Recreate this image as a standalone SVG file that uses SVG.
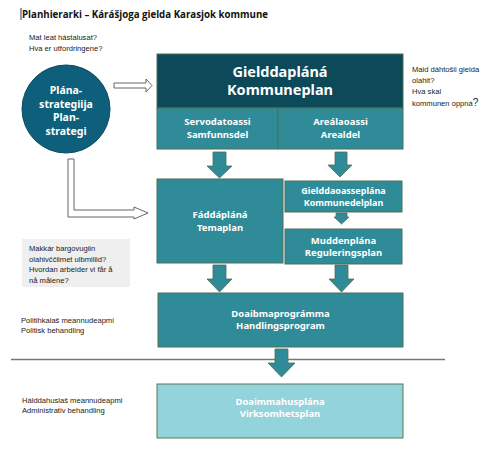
<svg xmlns="http://www.w3.org/2000/svg" width="488" height="451" viewBox="0 0 488 451">
<style>
.box{fill:#2f8b97;stroke:#4f6f57;stroke-width:1}
.dark{fill:#0c4a5a;stroke:#4f6f57;stroke-width:1}
.light{fill:#93d3dc;stroke:#5b7a55;stroke-width:1}
.bt{font-family:"Noto Sans","Open Sans",sans-serif;font-weight:bold;fill:#ffffff;text-anchor:middle}
.sm{font-family:"Liberation Sans",Arial,sans-serif;font-size:7.6px;fill:#222222}
.down{fill:#2f8b97;stroke:#4f6f57;stroke-width:0.8}
.hollow{fill:#ffffff;stroke:#555555;stroke-width:0.9}
</style>
<rect width="488" height="451" fill="#ffffff"/>
<line x1="21" y1="8" x2="21" y2="20" stroke="#000" stroke-width="0.8"/>
<text x="22" y="18" font-family="Open Sans, sans-serif" font-weight="bold" font-size="10.5" fill="#111" textLength="246" lengthAdjust="spacingAndGlyphs">Planhierarki – Kárášjoga gielda Karasjok kommune</text>

<g id="note-top">
<text class="sm" x="29" y="40">Mat leat hástalusat?</text>
<text class="sm" x="29" y="51">Hva er utfordringene?</text>
</g>

<g id="note-right">
<text class="sm" x="412" y="72" font-size="7">Maid dáhtošii gielda</text>
<text class="sm" x="412" y="83" font-size="7">olahit?</text>
<text class="sm" x="412" y="94" font-size="7">Hva skal</text>
<text class="sm" x="412" y="106" font-size="7">kommunen oppná<tspan font-size="10">?</tspan></text>
</g>

<g id="note-gray">
<rect x="22" y="239" width="108" height="48" fill="#efefef"/>
<text class="sm" x="29" y="251">Makkár bargovugiin</text>
<text class="sm" x="29" y="261.5">olahivččiimet ulbmiliid?</text>
<text class="sm" x="29" y="272">Hvordan arbeider vi får å</text>
<text class="sm" x="29" y="282.5">nå målene?</text>
</g>

<g id="note-political">
<text class="sm" x="21" y="323">Politihkalaš meannudeapmi</text>
<text class="sm" x="21" y="333">Politisk behandling</text>
</g>

<g id="note-admin">
<text class="sm" x="22" y="403">Hálddahuslaš meannudeapmi</text>
<text class="sm" x="22" y="413">Administrativ behandling</text>
</g>

<g id="connectors">
<polygon class="hollow" points="114,83 146,83 146,79 152,85.5 146,92 146,88 114,88"/>
<polygon class="hollow" points="68,159 74,159 74,210 134,210 134,207 148,213 134,219 134,217 68,217"/>
<polygon class="down" points="213,152 226,152 226,166 232,166 219.5,178 207,166 213,166"/>
<polygon class="down" points="335,152 347,152 347,165 352,165 340,177 328,165 335,165"/>
<polygon class="down" points="336,213 347,213 347,217 349,217 341.5,224 334,217 336,217"/>
<polygon class="down" points="213,265 226,265 226,279 232,279 219.5,292 207,279 213,279"/>
<polygon class="down" points="335,265 348,265 348,279 354,279 341.5,292 329,279 335,279"/>
<line x1="11" y1="359.5" x2="445" y2="359.5" stroke="#777" stroke-width="1.3"/>
<polygon class="down" points="275,349 288,349 288,363 295,363 281.5,377 268,363 275,363"/>
</g>

<g id="plan-strategi">
<circle cx="66" cy="109" r="44" fill="#0d5f7b" stroke="#0a4a5e" stroke-width="1"/>
<text class="bt" font-size="10.5" x="66" y="94">Plána-</text>
<text class="bt" font-size="10.5" x="66" y="107.5">strategiija</text>
<text class="bt" font-size="10.5" x="66" y="121">Plan-</text>
<text class="bt" font-size="10.5" x="66" y="134.5">strategi</text>
</g>

<g id="kommuneplan">
<rect class="dark" x="157" y="54" width="246" height="54"/>
<text class="bt" font-size="14.5" x="280" y="77">Gielddapláná</text>
<text class="bt" font-size="14.5" x="280" y="95">Kommuneplan</text>
</g>

<g id="samfunnsdel">
<rect class="box" x="157" y="108" width="121" height="41"/>
<text class="bt" font-size="9.5" x="217.5" y="125">Servodatoassi</text>
<text class="bt" font-size="9.5" x="217.5" y="137.5">Samfunnsdel</text>
</g>

<g id="arealdel">
<rect class="box" x="278" y="108" width="125" height="41"/>
<text class="bt" font-size="9.5" x="340.5" y="125">Areálaoassi</text>
<text class="bt" font-size="9.5" x="340.5" y="137.5">Arealdel</text>
</g>

<g id="temaplan">
<rect class="box" x="157" y="179" width="126" height="84"/>
<text class="bt" font-size="9.5" x="220" y="218">Fáddápláná</text>
<text class="bt" font-size="9.5" x="220" y="231">Temaplan</text>
</g>

<g id="kommunedelplan">
<rect class="box" x="285" y="181" width="117" height="31"/>
<text class="bt" font-size="9" x="343.5" y="193.5">Gielddaoasseplána</text>
<text class="bt" font-size="9" x="343.5" y="205.5">Kommunedelplan</text>
</g>

<g id="reguleringsplan">
<rect class="box" x="285" y="229" width="117" height="35"/>
<text class="bt" font-size="9.5" x="343.5" y="243.5">Muddenplána</text>
<text class="bt" font-size="9.5" x="343.5" y="255.5">Reguleringsplan</text>
</g>

<g id="handlingsprogram">
<rect class="box" x="158" y="293" width="245" height="54"/>
<text class="bt" font-size="9.5" x="280.5" y="317">Doaibmaprográmma</text>
<text class="bt" font-size="9.5" x="280.5" y="329">Handlingsprogram</text>
</g>

<g id="virksomhetsplan">
<rect class="light" x="157" y="384" width="246" height="54"/>
<text class="bt" font-size="9.5" x="280" y="405">Doaimmahusplána</text>
<text class="bt" font-size="9.5" x="280" y="417">Virksomhetsplan</text>
</g>
</svg>
